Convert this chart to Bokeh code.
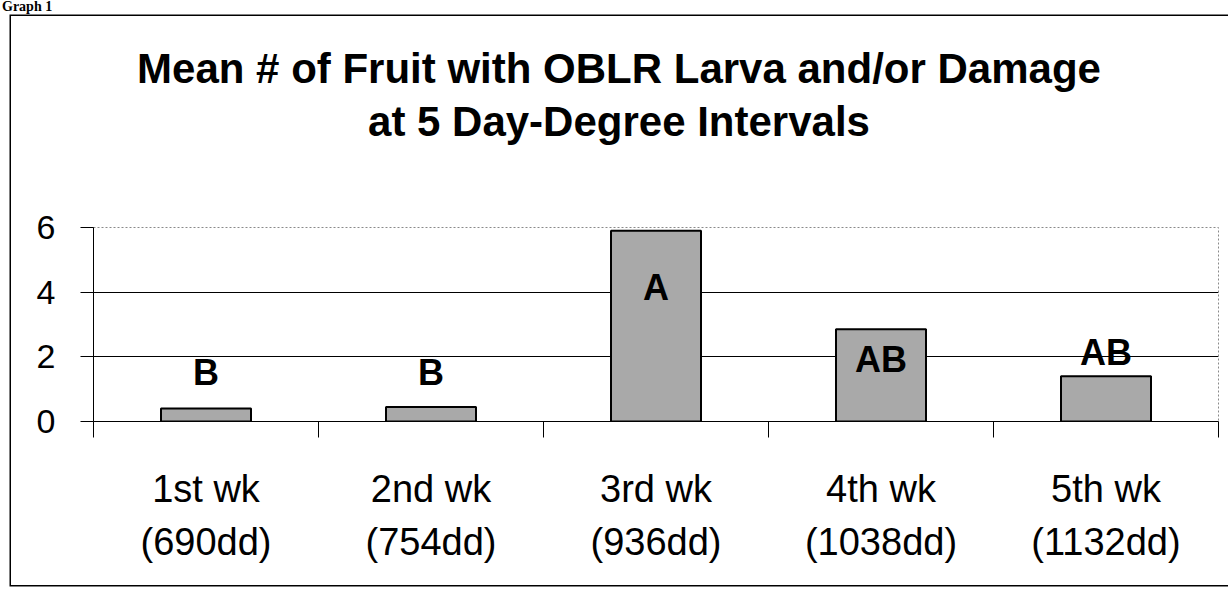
from bokeh.plotting import figure
from bokeh.models import FixedTicker, Range1d, LinearAxis, Grid, Div
from bokeh.layouts import column
from bokeh.embed import file_html
from bokeh.resources import INLINE
from bokeh.core.properties import value

# ---- data ----
weeks = ["1st wk", "2nd wk", "3rd wk", "4th wk", "5th wk"]
degree_days = ["(690dd)", "(754dd)", "(936dd)", "(1038dd)", "(1132dd)"]
mean_fruit = [0.4, 0.45, 5.9, 2.85, 1.4]
groups = ["B", "B", "A", "AB", "AB"]
group_label_y = [1.53, 1.53, 4.15, 1.93, 2.13]
y_ticks = [0, 2, 4, 6]
title_lines = ["Mean # of Fruit with OBLR Larva and/or Damage", "at 5 Day-Degree Intervals"]
caption = "Graph 1"

FONT = "Liberation Sans"
centers = [i + 0.5 for i in range(len(weeks))]
bounds = list(range(len(weeks) + 1))

W, H = 1228, 591
TITLE_H = 150

# ---- title block ----
title_html = (
    f'<div style="position:absolute; left:2px; top:0px; font-family:\'Liberation Serif\'; '
    f'font-weight:bold; font-size:14px; line-height:14px; white-space:nowrap;">{caption}</div>'
    f'<div style="position:absolute; left:5px; width:{W}px; top:42px; text-align:center; '
    f'font-family:\'{FONT}\'; font-weight:bold; font-size:42px; line-height:53px; white-space:nowrap;">'
    + "<br>".join(title_lines) + "</div>"
)
title_div = Div(text=title_html, width=W, height=TITLE_H, margin=(0, 0, 0, 0),
                styles={"position": "relative", "color": "black", "overflow": "visible"})

# ---- plot ----
p = figure(width=W, height=H - TITLE_H, x_range=Range1d(0, len(weeks)), y_range=Range1d(0, 6),
           output_backend="svg", toolbar_location=None,
           x_axis_location=None, y_axis_location=None, margin=(0, 0, 0, 0),
           min_border_left=93, min_border_right=10, min_border_top=227 - TITLE_H, min_border_bottom=170)
p.xgrid.grid_line_color = None
p.ygrid.grid_line_color = None
p.background_fill_color = "white"
p.border_fill_alpha = 0
p.outline_line_color = "#8a8a8a"
p.outline_line_dash = "2 2"
p.outline_line_width = 1

# y axis
yax = LinearAxis(ticker=FixedTicker(ticks=y_ticks))
yax.major_tick_out = 13
yax.major_tick_in = 0
yax.minor_tick_line_color = None
yax.axis_line_color = "black"
yax.major_tick_line_color = "black"
yax.major_label_text_font = FONT
yax.major_label_text_font_size = "34px"
yax.major_label_text_color = "black"
yax.major_label_standoff = 25
p.add_layout(yax, "left")

# x axis with boundary ticks
xb = LinearAxis(ticker=FixedTicker(ticks=bounds))
xb.major_tick_out = 16
xb.major_tick_in = 0
xb.minor_tick_line_color = None
xb.axis_line_color = "black"
xb.major_tick_line_color = "black"
xb.major_label_overrides = {b: "" for b in bounds}
xb.major_label_text_font_size = "1px"
xb.major_label_standoff = 0
p.add_layout(xb, "below")

def label_axis(labels, standoff):
    ax = LinearAxis(ticker=FixedTicker(ticks=centers))
    ax.axis_line_color = None
    ax.major_tick_line_color = None
    ax.minor_tick_line_color = None
    ax.major_tick_out = 0
    ax.major_tick_in = 0
    ax.major_label_overrides = {c: l for c, l in zip(centers, labels)}
    ax.major_label_text_font = FONT
    ax.major_label_text_font_size = "38px"
    ax.major_label_text_color = "black"
    ax.major_label_standoff = standoff
    return ax

p.add_layout(label_axis(weeks, 30), "below")
p.add_layout(label_axis(degree_days, 8), "below")

# grid
grid = Grid(dimension=1, ticker=FixedTicker(ticks=[2, 4]), grid_line_color="black", grid_line_width=1)
p.add_layout(grid)

# bars
p.vbar(x=centers, top=mean_fruit, bottom=0, width=0.4, fill_color="#a9a9a9",
       line_color="black", line_width=2)

# significance letters
p.text(x=centers, y=group_label_y, text=groups, text_font=value(FONT), text_font_style="bold",
       text_font_size="36px", text_align="center", text_baseline="middle", text_color="black")

layout = column(title_div, p, spacing=0, width=W, height=H, margin=(0, 0, 0, 0))
# outer chart border (left, top, bottom edges)
layout.styles = {"box-shadow": ("inset 9.5px 0 0 0 white, inset 0 14.5px 0 0 white, inset 0 -4.5px 0 0 white, "
                                "inset 11px 0 0 0 black, inset 0 16px 0 0 black, inset 0 -6px 0 0 black"),
                 "background": "white"}

open("out.html", "w").write(file_html(layout, INLINE))
